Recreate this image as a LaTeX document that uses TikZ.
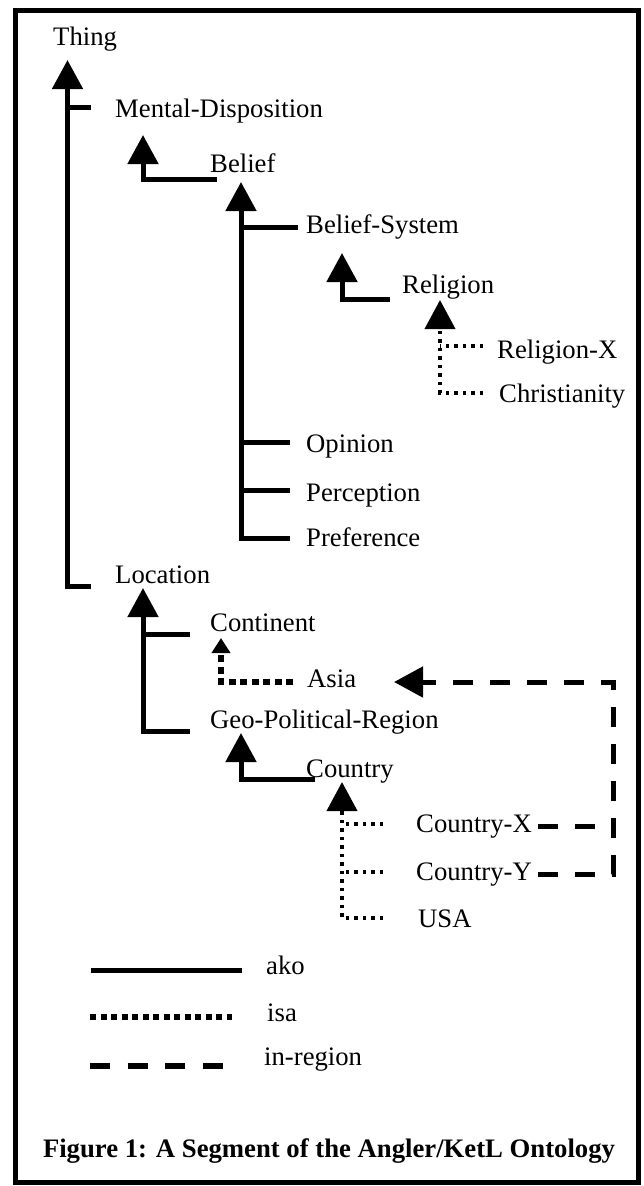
\documentclass[tikz,border=0pt]{standalone}
\usepackage{fontspec}
\setmainfont{Liberation Serif}
\usetikzlibrary{arrows.meta,calc}
\tikzset{
  lbl/.style={anchor=base west, inner sep=0pt, font=\fontsize{26.7}{32}\selectfont},
  ako/.style={line width=5pt, line join=miter},
  isa/.style={line width=4pt, dash pattern=on 3.5pt off 5pt},
  isabig/.style={line width=6pt, dash pattern=on 7pt off 4.5pt},
  legisa/.style={line width=6pt, dash pattern=on 6pt off 4.5pt},
  inreg/.style={line width=5pt, dash pattern=on 20pt off 17pt},
  bighead/.style={-{Triangle[width=30pt,length=29pt]}},
  smallhead/.style={-{Triangle[width=18pt,length=15pt]}},
}
\begin{document}
\begin{tikzpicture}[x=1pt,y=-1pt]
\useasboundingbox (0,0) rectangle (643,1186);
\draw[line width=5pt] (15,10) rectangle (638.5,1182);

% nodes
\node[lbl] (thing) at (53,45) {Thing};
\node[lbl] (md) at (115,117) {Mental-Disposition};
\node[lbl] (belief) at (210,172) {Belief};
\node[lbl] (bs) at (306,233) {Belief-System};
\node[lbl] (religion) at (402,293) {Religion};
\node[lbl] (relx) at (497,358) {Religion-X};
\node[lbl] (christ) at (499,402) {Christianity};
\node[lbl] (opinion) at (306,452) {Opinion};
\node[lbl] (perception) at (306,501) {Perception};
\node[lbl] (preference) at (306,546) {Preference};
\node[lbl] (location) at (115,583) {Location};
\node[lbl] (continent) at (210,631) {Continent};
\node[lbl] (asia) at (307,687) {Asia};
\node[lbl] (geo) at (210,728) {Geo-Political-Region};
\node[lbl] (country) at (306,777) {Country};
\node[lbl] (cx) at (416,832) {Country-X};
\node[lbl] (cy) at (416,880) {Country-Y};
\node[lbl] (usa) at (418,927) {USA};

% ports
\coordinate (thingtip) at ($(thing.base west)+(14.5,15)$);
\coordinate (mdtip) at ($(md.base west)+(28,18)$);
\coordinate (belieftip) at ($(belief.base west)+(31,10)$);
\coordinate (bstip) at ($(bs.base west)+(36,20)$);
\coordinate (reltip) at ($(religion.base west)+(38,7)$);
\coordinate (loctip) at ($(location.base west)+(28,5)$);
\coordinate (conttip) at ($(continent.base west)+(11,7)$);
\coordinate (geotip) at ($(geo.base west)+(31,5)$);
\coordinate (countrytip) at ($(country.base west)+(36,5)$);
\coordinate (asiatip) at ($(asia.base west)+(87,-5)$);
\coordinate (rc) at (613,682);

% ako
\draw[ako,bighead] ($(location.base west)+(-24,3)$) -| (thingtip);
\draw[ako] ($(md.base west)+(-24,-10)$) -- ++(-24,0);
\draw[ako,bighead] ($(belief.base west)+(7,7)$) -| (mdtip);
\draw[ako,bighead] ($(preference.base west)+(-16,-8)$) -| (belieftip);
\draw[ako] ($(bs.base west)+(-8,-6)$) -- ++(-57,0);
\draw[ako] ($(opinion.base west)+(-16,-10)$) -- ++(-49,0);
\draw[ako] ($(perception.base west)+(-16,-11)$) -- ++(-49,0);
\draw[ako,bighead] ($(religion.base west)+(-12,6)$) -| (bstip);
\draw[ako,bighead] ($(geo.base west)+(-20,3)$) -| (loctip);
\draw[ako] ($(continent.base west)+(-20,3)$) -- ++(-47,0);
\draw[ako,bighead] ($(country.base west)+(9,2)$) -| (geotip);

% isa
\draw[isa,bighead] ($(christ.base west)+(-16,-9)$) -| (reltip);
\draw[isa] ($(relx.base west)+(-14,-12)$) -- ++(-43,0);
\draw[isabig,smallhead] ($(asia.base west)+(-14,-5)$) -| (conttip);
\draw[isa,bighead] ($(usa.base west)+(-35,-9)$) -| (countrytip);
\draw[isa] ($(cx.base west)+(-33,-8)$) -- ++(-41,0);
\draw[isa] ($(cy.base west)+(-33,-8)$) -- ++(-41,0);

% in-region
\draw[inreg] ([xshift=6pt]cx.east) -- (cx.east -| rc);
\draw[inreg,bighead] ([xshift=6pt]cy.east) -- (cy.east -| rc) -- (rc) -- (asiatip);

% legend
\node[lbl] (lako) at (266,974) {ako};
\draw[ako] ($(lako.base west)+(-175,-3.5)$) -- ++(151,0);
\node[lbl] (lisa) at (267,1021) {isa};
\draw[legisa] ($(lisa.base west)+(-177,-4)$) -- ++(142,0);
\node[lbl] (lreg) at (264,1065) {in-region};
\draw[inreg,line width=6pt,dash pattern=on 20pt off 17.7pt] ($(lreg.base west)+(-174,1)$) -- ++(133,0);

\node[lbl,anchor=base,font=\fontsize{26.7}{32}\selectfont\bfseries] (cap) at (329,1157) {Figure 1: A Segment of the Angler/KetL Ontology};
\end{tikzpicture}
\end{document}
